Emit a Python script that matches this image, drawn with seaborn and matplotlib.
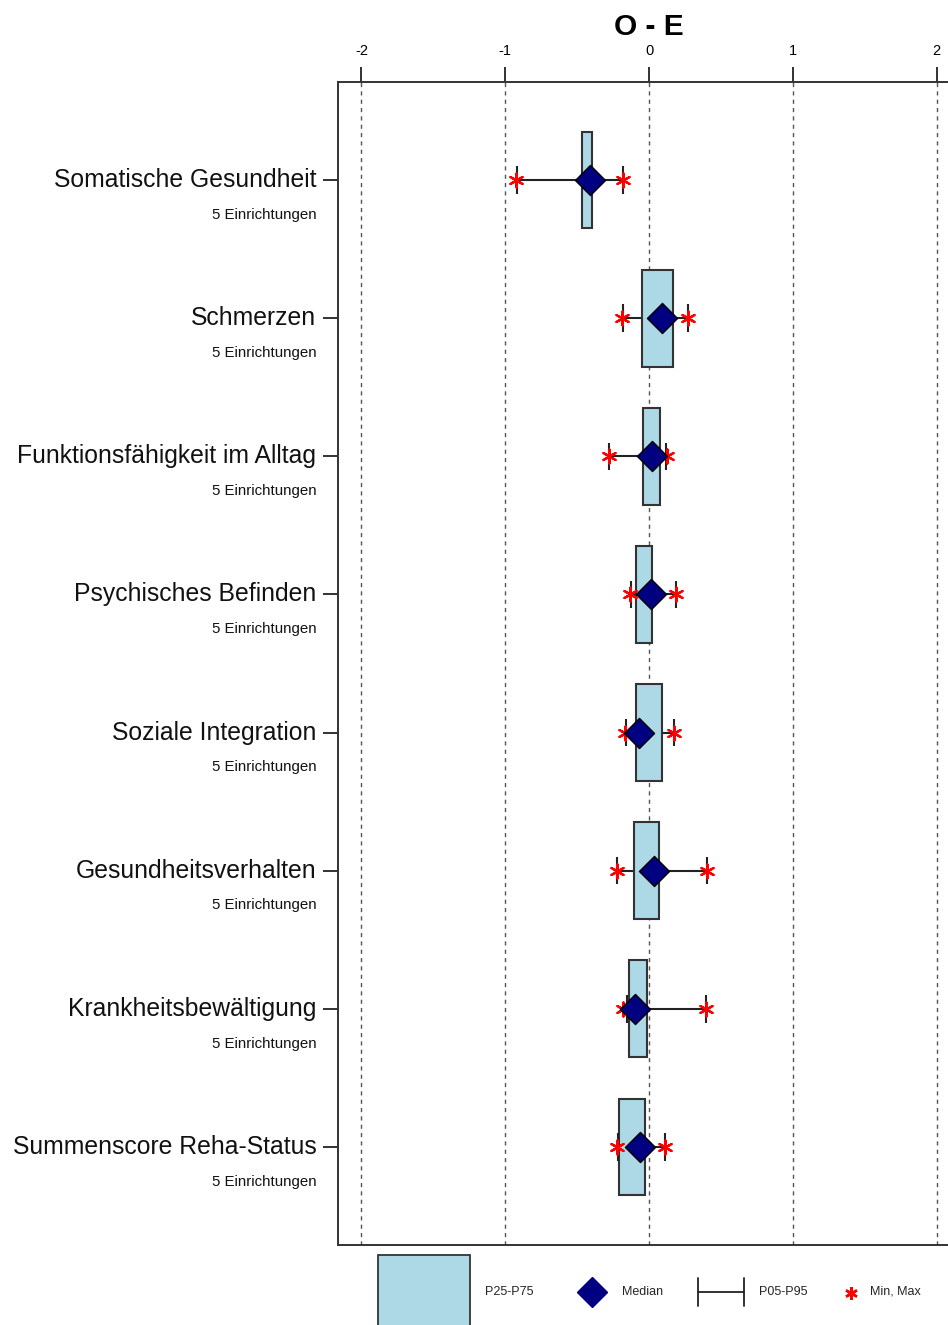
import matplotlib
matplotlib.use("Agg")
import matplotlib.pyplot as plt
from matplotlib.patches import Rectangle
import numpy as np
import pandas as pd
import seaborn as sns

# Observed minus expected scores per outcome domain
categories = [
    "Somatische Gesundheit",
    "Schmerzen",
    "Funktionsfähigkeit im Alltag",
    "Psychisches Befinden",
    "Soziale Integration",
    "Gesundheitsverhalten",
    "Krankheitsbewältigung",
    "Summenscore Reha-Status",
]
n_facilities = [5, 5, 5, 5, 5, 5, 5, 5]
p25 = [-0.466, -0.051, -0.044, -0.090, -0.093, -0.102, -0.139, -0.207]
p75 = [-0.397, 0.164, 0.077, 0.021, 0.090, 0.070, -0.016, -0.026]
median = [-0.410, 0.093, 0.019, 0.014, -0.070, 0.035, -0.097, -0.063]
p05 = [-0.920, -0.180, -0.278, -0.127, -0.160, -0.225, -0.155, -0.218]
p95 = [-0.181, 0.272, 0.116, 0.186, 0.174, 0.406, 0.394, 0.109]
vmin = [-0.925, -0.186, -0.278, -0.130, -0.170, -0.225, -0.183, -0.225]
vmax = [-0.181, 0.274, 0.123, 0.186, 0.174, 0.406, 0.394, 0.109]
x_ticks = [-2, -1, 0, 1, 2]

df = pd.DataFrame({
    "category": categories, "n": n_facilities, "p25": p25, "p75": p75,
    "median": median, "p05": p05, "p95": p95, "min": vmin, "max": vmax,
})
df["pos"] = np.arange(len(df))

sns.set_theme(style="white")
plt.rcParams["font.family"] = ["Liberation Sans", "DejaVu Sans"]

W, H = 948, 1325
fig = plt.figure(figsize=(W / 100, H / 100), dpi=100)
ax = fig.add_axes([338 / W, 1 - 1245 / H, (960 - 338) / W, (1245 - 82) / H])

box_fill = "#ADD8E6"
edge = "#333333"
star = (6, 2, 0)

# reference lines at integer x
for xv in x_ticks:
    ax.axvline(xv, color="#555555", lw=1.0, ls=(0, (3, 3)), zorder=0)

# P05-P95 whisker line with caps
ax.hlines(df["pos"], df["p05"], df["p95"], color="#222222", lw=1.5, zorder=1)
ax.vlines(df["p05"], df["pos"] - 0.1, df["pos"] + 0.1, color="#222222", lw=1.5, zorder=3)
ax.vlines(df["p95"], df["pos"] - 0.1, df["pos"] + 0.1, color="#222222", lw=1.5, zorder=3)

# interquartile boxes
ax.barh(df["pos"], df["p75"] - df["p25"], left=df["p25"], height=0.70,
        color=box_fill, edgecolor=edge, linewidth=1.5, zorder=2)

# min / max stars
mm = pd.concat([
    df[["pos", "min"]].rename(columns={"min": "value"}),
    df[["pos", "max"]].rename(columns={"max": "value"}),
])
sns.scatterplot(data=mm, x="value", y="pos", marker=star, s=100, color="red",
                linewidth=1.6, edgecolor="red", ax=ax, zorder=4, legend=False)

# medians
sns.scatterplot(data=df, x="median", y="pos", marker="D", s=235, color="#000080",
                edgecolor="black", linewidth=1.0, ax=ax, zorder=5, legend=False)

ax.set_xlim(-2.163, 2.163)
ax.set_ylim(len(df) - 1 + 0.71, -0.71)
ax.set_xlabel("")
ax.set_ylabel("")

ax.xaxis.tick_top()
ax.set_xticks(x_ticks)
ax.set_xticklabels([str(v) for v in x_ticks], fontsize=10.5, color="black")
ax.tick_params(axis="x", direction="out", length=10.5, width=1.3, color="#222222",
               pad=7, top=True, bottom=False)
ax.set_yticks(df["pos"])
ax.set_yticklabels([])
ax.tick_params(axis="y", direction="out", length=11, width=1.3, color="#222222", left=True)

for sp in ax.spines.values():
    sp.set_color("#333333")
    sp.set_linewidth(1.4)

ax.set_title("O - E", fontsize=21.5, fontweight="bold", pad=6.5, color="black")

for _, r in df.iterrows():
    ax.annotate(r["category"], xy=(0, r["pos"]), xycoords=("axes fraction", "data"),
                xytext=(-15.5, 0), textcoords="offset points", ha="right", va="center",
                fontsize=17.8, color="#111111")
    ax.annotate(f'{r["n"]} Einrichtungen', xy=(0, r["pos"]), xycoords=("axes fraction", "data"),
                xytext=(-15.5, -25), textcoords="offset points", ha="right", va="center",
                fontsize=10.8, color="#111111")

# legend strip below the plot
lax = fig.add_axes([0, 0, 1, 1 - 1245 / H])
lax.set_xlim(0, W)
lax.set_ylim(H, 1245)
lax.axis("off")
ly = 1292
lax.add_patch(Rectangle((378, 1255), 92, 100, facecolor=box_fill, edgecolor=edge, lw=1.3))
lax.text(485, ly, "P25-P75", fontsize=9, va="center", ha="left")
lax.plot([592], [ly], marker="D", ms=15, color="#000080", mec="#000080")
lax.text(622, ly, "Median", fontsize=9, va="center", ha="left")
lax.plot([698, 744], [ly, ly], color="#222222", lw=1.3)
lax.plot([698, 698], [ly - 14, ly + 14], color="#222222", lw=1.3)
lax.plot([744, 744], [ly - 14, ly + 14], color="#222222", lw=1.3)
lax.text(759, ly, "P05-P95", fontsize=9, va="center", ha="left")
lax.plot([851], [ly + 1], marker=star, ms=9, color="red", mew=1.8)
lax.text(870, ly, "Min, Max", fontsize=9, va="center", ha="left")

fig.savefig("out.png", dpi=100)
